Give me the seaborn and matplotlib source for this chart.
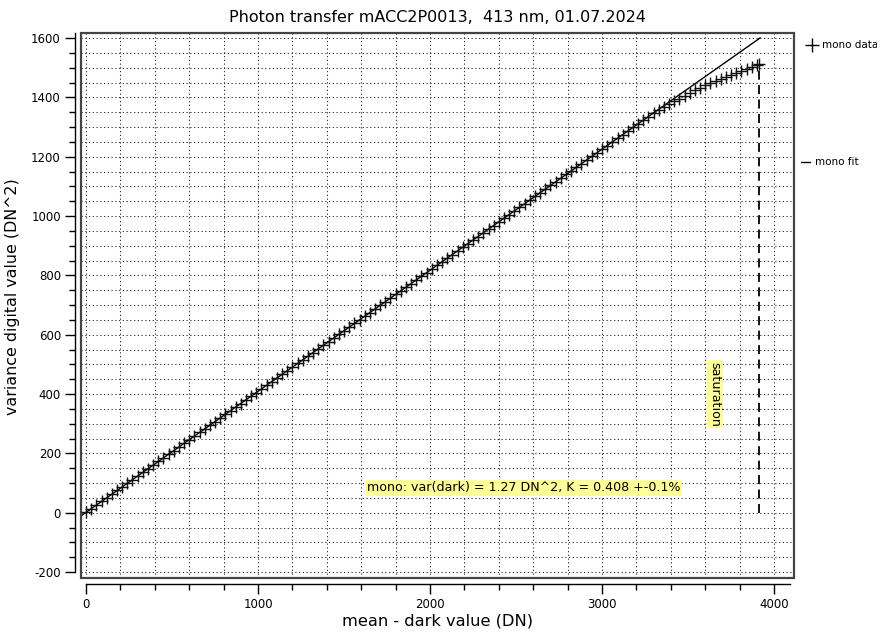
import matplotlib
matplotlib.use("Agg")
import matplotlib.pyplot as plt
from matplotlib.lines import Line2D
from matplotlib.patches import Rectangle
from matplotlib.ticker import MultipleLocator
import seaborn as sns

# Measured photon transfer data (mean - dark vs variance)
mean_dn = [0, 30, 60, 90, 120, 150, 180, 210, 240, 270,
           300, 330, 360, 390, 420, 450, 480, 510, 540, 570,
           600, 630, 660, 690, 720, 750, 780, 810, 840, 870,
           900, 930, 960, 990, 1020, 1050, 1080, 1110, 1140, 1170,
           1200, 1230, 1260, 1290, 1320, 1350, 1380, 1410, 1440, 1470,
           1500, 1530, 1560, 1590, 1620, 1650, 1680, 1710, 1740, 1770,
           1800, 1830, 1860, 1890, 1920, 1950, 1980, 2010, 2040, 2070,
           2100, 2130, 2160, 2190, 2220, 2250, 2280, 2310, 2340, 2370,
           2400, 2430, 2460, 2490, 2520, 2550, 2580, 2610, 2640, 2670,
           2700, 2730, 2760, 2790, 2820, 2850, 2880, 2910, 2940, 2970,
           3000, 3030, 3060, 3090, 3120, 3150, 3180, 3210, 3240, 3270,
           3300, 3330, 3360, 3390, 3420, 3450, 3480, 3510, 3540, 3570,
           3600, 3630, 3660, 3690, 3720, 3750, 3780, 3810, 3840, 3870,
           3900, 3910]
variance = [1, 14, 26, 38, 50, 63, 75, 87, 99, 111,
            124, 136, 148, 160, 173, 185, 197, 209, 222, 234,
            246, 258, 271, 283, 295, 307, 320, 332, 344, 356,
            368, 381, 393, 405, 417, 430, 442, 454, 466, 479,
            491, 503, 515, 528, 540, 552, 564, 577, 589, 601,
            613, 626, 638, 650, 662, 674, 687, 699, 711, 723,
            736, 748, 760, 772, 785, 797, 809, 821, 834, 846,
            858, 870, 883, 895, 907, 919, 931, 944, 956, 968,
            980, 993, 1005, 1017, 1029, 1042, 1054, 1066, 1078, 1091,
            1103, 1115, 1127, 1140, 1152, 1164, 1176, 1189, 1201, 1213,
            1225, 1237, 1250, 1262, 1274, 1286, 1299, 1311, 1323, 1335,
            1347, 1358, 1368, 1378, 1387, 1396, 1406, 1415, 1424, 1432,
            1441, 1449, 1456, 1463, 1470, 1477, 1483, 1489, 1496, 1502,
            1508, 1512]

# linear fit: var = 1.27 + 0.408 * mean
fit_x = [-30, 3920]
fit_y = [-10.97, 1600.63]

sat_x = 3913
sat_y = [0, 1512]

sns.set_style("white")
plt.rcParams['font.family'] = ['DejaVu Sans']
plt.rcParams['axes.unicode_minus'] = False
plt.rcParams['text.color'] = 'black'
plt.rcParams['axes.labelcolor'] = 'black'
plt.rcParams['xtick.color'] = 'black'
plt.rcParams['ytick.color'] = 'black'

fig = plt.figure(figsize=(8.78, 6.34), dpi=100)
ax = fig.add_axes([0.0923, 0.0883, 0.8120, 0.8597])

sns.lineplot(x=fit_x, y=fit_y, ax=ax, color='black', linewidth=1, zorder=3)
sns.scatterplot(x=mean_dn, y=variance, ax=ax, marker='+', s=85, color='#111111',
                linewidth=1.0, zorder=4)
ax.vlines(sat_x, sat_y[0], sat_y[1], colors='black', linestyles=(0, (5, 3)),
          linewidth=1.3, zorder=3)

ax.set_xlim(-29, 4116)
ax.set_ylim(-220, 1617)

ax.xaxis.set_major_locator(MultipleLocator(1000))
ax.xaxis.set_minor_locator(MultipleLocator(200))
ax.yaxis.set_major_locator(MultipleLocator(200))
ax.yaxis.set_minor_locator(MultipleLocator(50))
ax.grid(which='both', color='#333333', linestyle=(0, (1.2, 2.4)), linewidth=0.75)
ax.tick_params(which='major', length=7, width=1, labelsize=8.5,
               direction='out', bottom=True, left=True)
ax.tick_params(which='minor', length=4, width=1,
               direction='out', bottom=True, left=True)

for s in ['top', 'right']:
    ax.spines[s].set_visible(False)
for s in ['left', 'bottom']:
    ax.spines[s].set_position(('outward', 4))
    ax.spines[s].set_color('black')
    ax.spines[s].set_linewidth(1)
ax.spines['left'].set_bounds(-200, 1617)
ax.spines['bottom'].set_bounds(0, 4090)
ax.add_patch(Rectangle((0, 0), 1, 1, transform=ax.transAxes, fill=False,
                       edgecolor='#444444', linewidth=1.6, zorder=5, clip_on=False))

ax.set_title("Photon transfer mACC2P0013,  413 nm, 01.07.2024", fontsize=11.5, pad=8)
ax.set_xlabel("mean - dark value (DN)", fontsize=11.7, labelpad=2)
ax.set_ylabel("variance digital value (DN^2)", fontsize=11.4)
ax.yaxis.set_label_coords(-0.0856, 0.5156)

box = dict(facecolor='#ffff99', edgecolor='none', pad=1)
ax.text(1634, 84, "mono: var(dark) = 1.27 DN^2, K = 0.408 +-0.1%", fontsize=9.1,
        va='center', ha='left', bbox=box, zorder=6)
ax.text(3657, 400, "saturation", fontsize=9.1, rotation=270, va='center',
        ha='center', bbox=box, zorder=6)

h_data = Line2D([], [], color='black', marker='+', linestyle='none',
                markersize=10, markeredgewidth=1)
h_fit = Line2D([], [], color='black', linewidth=1)
leg1 = ax.legend(handles=[h_data], labels=['mono data'], loc='upper left',
                 bbox_to_anchor=(1.008, 1.0), frameon=False, fontsize=7.5,
                 handlelength=1.0, handletextpad=0.4, borderaxespad=0.3)
ax.add_artist(leg1)
ax.legend(handles=[h_fit], labels=['mono fit'], loc='upper left',
          bbox_to_anchor=(1.0, 0.785), frameon=False, fontsize=7.5,
          handlelength=0.8, handletextpad=0.5, borderaxespad=0.3)

plt.savefig("out.png", dpi=100)
